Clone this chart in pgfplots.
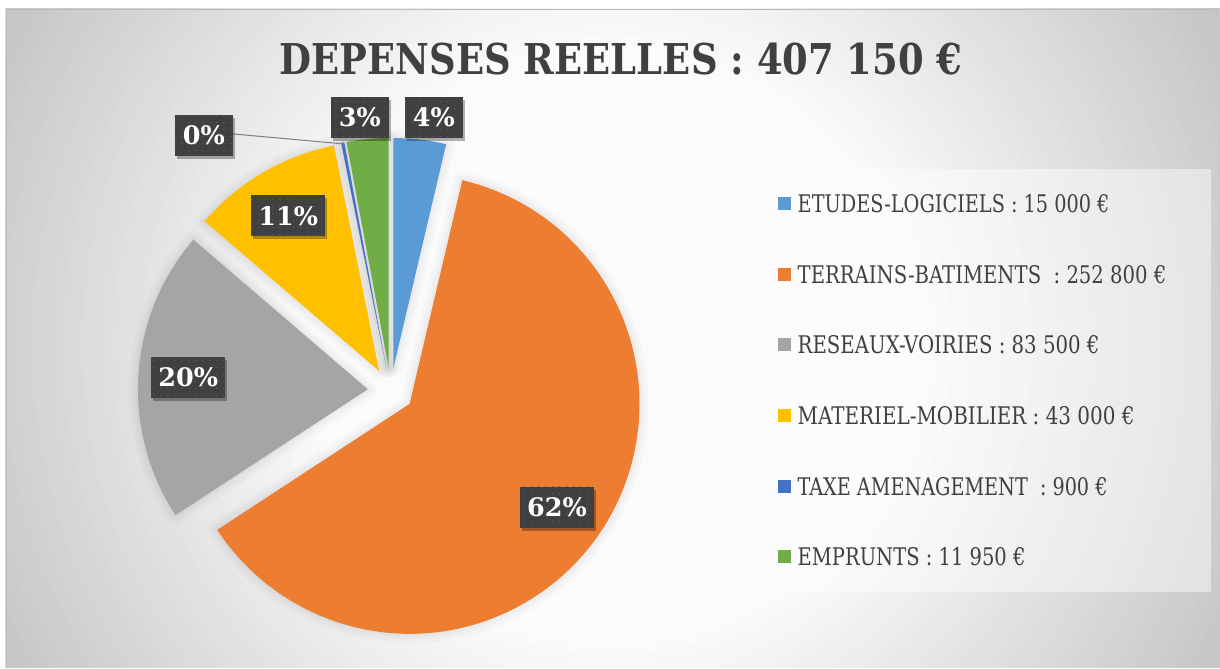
\documentclass[border=0pt]{standalone}
\usepackage{pgfplots}
\pgfplotsset{compat=1.18}
\usepackage{pgfplotstable}
\usepackage{fontspec}
\usepackage{graphicx}
\usetikzlibrary{shadows,patterns.meta}
\setmainfont{DejaVu Serif Condensed}
\newfontfamily\labfont{DejaVu Serif}
\definecolor{cA}{HTML}{5B9BD5}
\definecolor{cB}{HTML}{ED7D31}
\definecolor{cC}{HTML}{A5A5A5}
\definecolor{cD}{HTML}{FFC000}
\definecolor{cE}{HTML}{4472C4}
\definecolor{cF}{HTML}{70AD47}
\definecolor{txt}{HTML}{404040}
\definecolor{lab}{HTML}{404040}
\definecolor{dotc}{HTML}{5C5C5C}
\definecolor{bgout}{HTML}{BFBFBF}
\definecolor{bgin}{HTML}{FBFBFB}
\definecolor{bordc}{HTML}{BBBBBB}
\definecolor{leader}{HTML}{7F7F7F}

\pgfplotstableread{
cat value
Etudes 15000
Terrains 252800
Reseaux 83500
Materiel 43000
Taxe 900
Emprunts 11950
}\depenses

\pgfplotstablegetelem{0}{value}\of\depenses \edef\vA{\pgfplotsretval}
\pgfplotstablegetelem{1}{value}\of\depenses \edef\vB{\pgfplotsretval}
\pgfplotstablegetelem{2}{value}\of\depenses \edef\vC{\pgfplotsretval}
\pgfplotstablegetelem{3}{value}\of\depenses \edef\vD{\pgfplotsretval}
\pgfplotstablegetelem{4}{value}\of\depenses \edef\vE{\pgfplotsretval}
\pgfplotstablegetelem{5}{value}\of\depenses \edef\vF{\pgfplotsretval}
\edef\tot{\fpeval{\vA+\vB+\vC+\vD+\vE+\vF}}
\edef\eA{\fpeval{360*\vA/\tot}}
\edef\eB{\fpeval{360*(\vA+\vB)/\tot}}
\edef\eC{\fpeval{360*(\vA+\vB+\vC)/\tot}}
\edef\eD{\fpeval{360*(\vA+\vB+\vC+\vD)/\tot}}
\edef\eE{\fpeval{360*(\vA+\vB+\vC+\vD+\vE)/\tot}}
\edef\eF{\fpeval{360*(\vA+\vB+\vC+\vD+\vE+\vF)/\tot}}

\def\cx{391}\def\cy{391}\def\ex{23}\def\R{230}

\newcommand\slice[3]{%
 \edef\pm{\fpeval{((#1)+(#2))/2}}%
 \edef\px{\fpeval{\cx+\ex*sind(\pm)}}%
 \edef\py{\fpeval{\cy-\ex*cosd(\pm)}}%
 \edef\sa{\fpeval{90-(#1)}}\edef\ea{\fpeval{90-(#2)}}%
 \path[#3] (axis cs:\px,\py) -- ++(\sa:\R pt) arc[start angle=\sa, end angle=\ea, radius=\R pt] -- cycle;}

\newcommand\halo[2]{%
 \slice{#1}{#2}{draw=black, draw opacity=0.02, line width=18pt, line join=round}%
 \slice{#1}{#2}{draw=black, draw opacity=0.02, line width=11pt, line join=round}%
 \slice{#1}{#2}{draw=black, draw opacity=0.025, line width=5pt, line join=round}}

\newcommand\plabel[5]{%
 \edef\pm{\fpeval{((#1)+(#2))/2}}%
 \edef\px{\fpeval{\cx+(#3)*sind(\pm)}}%
 \edef\py{\fpeval{\cy-(#3)*cosd(\pm)}}%
 \node[labbox, minimum width=#5] at (axis cs:\px,\py) {#4};}

\tikzset{labbox/.style={fill=lab, text=white, inner sep=0pt, minimum height=41pt,
  font=\labfont\bfseries\fontsize{25.5}{25.5}\selectfont,
  drop shadow={shadow xshift=2pt, shadow yshift=-3pt, opacity=0.3, fill=black},
  postaction={pattern={Dots[distance=7pt, radius=0.8pt]}, pattern color=dotc}}}

\newcommand\legrow[4]{% y-center of square, color, width, text
 \fill[#2] (axis cs:778,{#1-6.5}) rectangle (axis cs:791,{#1+6.5});
 \node[anchor=base west, inner sep=0pt, text=txt] at (axis cs:798,{#1+9}) {\resizebox{#3}{\height}{\fontsize{24.3}{26}\selectfont #4}};}

\begin{document}
\begin{tikzpicture}
\begin{axis}[hide axis, scale only axis, width=1220pt, height=668pt,
  xmin=0, xmax=1220, ymin=0, ymax=668, y dir=reverse, clip=false]
\pgfplotsextra{%
 \fill[white] (axis cs:0,0) rectangle (axis cs:1220,668);
 \begin{scope}
 \clip (axis cs:6,9) rectangle (axis cs:1220,668);
 \fill[bgout] (axis cs:6,9) rectangle (axis cs:1220,668);
 \foreach \i in {0,...,44} {%
   \pgfmathsetmacro\rr{740-10*\i}%
   \pgfmathsetmacro\tt{min(100,\i*100/44)}%
   \fill[bgin!\tt!bgout] (axis cs:612,345) circle[radius=\rr pt];}
 \end{scope}
 \draw[bordc, line width=1.5pt] (axis cs:6.5,668) -- (axis cs:6.5,9.5) -- (axis cs:1220,9.5);
 \node[anchor=base, inner sep=0pt, text=txt] at (axis cs:621.5,75)
   {\resizebox{683pt}{\height}{\bfseries\fontsize{42.5}{44}\selectfont DEPENSES REELLES : 407 150 €}};
 \halo{0}{\eA}\halo{\eA}{\eB}\halo{\eB}{\eC}\halo{\eC}{\eD}\halo{\eD}{\eE}\halo{\eE}{\eF}
 \slice{0}{\eA}{fill=cA}
 \slice{\eA}{\eB}{fill=cB}
 \slice{\eB}{\eC}{fill=cC}
 \slice{\eC}{\eD}{fill=cD}
 \slice{\eD}{\eE}{fill=cE}
 \slice{\eE}{\eF}{fill=cF}
 \plabel{\eA}{\eB}{203}{62\%}{74pt}
 \plabel{\eB}{\eC}{203}{20\%}{74pt}
 \plabel{\eC}{\eD}{203}{11\%}{74pt}
 \node[labbox, minimum width=58pt] at (axis cs:434,117.5) {4\%};
 \node[labbox, minimum width=58pt] at (axis cs:360,117.5) {3\%};
 \draw[leader, line width=1pt] (axis cs:233,134) -- (axis cs:344,144);
 \node[labbox, minimum width=58pt] at (axis cs:204,135.5) {0\%};
 \fill[white, opacity=0.45] (axis cs:731,169) rectangle (axis cs:1212,592.5);
 \legrow{204}{cA}{312pt}{ETUDES-LOGICIELS : 15 000 €}
 \legrow{274.6}{cB}{369pt}{TERRAINS-BATIMENTS~ : 252 800 €}
 \legrow{345.2}{cC}{302pt}{RESEAUX-VOIRIES : 83 500 €}
 \legrow{415.8}{cD}{337pt}{MATERIEL-MOBILIER : 43 000 €}
 \legrow{486.4}{cE}{310pt}{TAXE AMENAGEMENT~ : 900 €}
 \legrow{557}{cF}{228pt}{EMPRUNTS : 11 950 €}
}
\end{axis}
\end{tikzpicture}
\end{document}
